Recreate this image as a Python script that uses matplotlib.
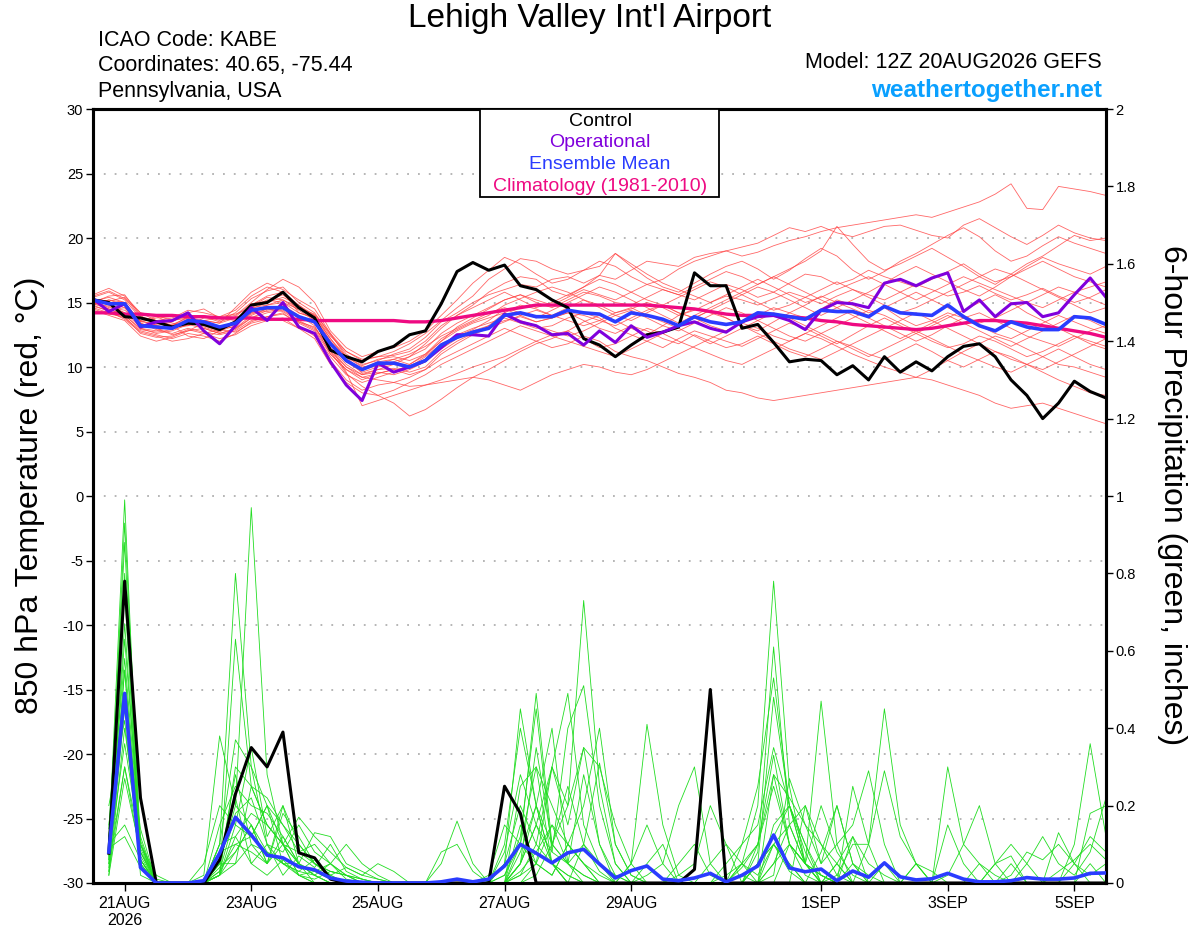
import numpy as np
import matplotlib
matplotlib.use("Agg")
import matplotlib.pyplot as plt
from matplotlib.patches import Rectangle

plt.rcParams["font.family"] = ["Liberation Sans", "DejaVu Sans"]
plt.rcParams["axes.unicode_minus"] = False

# forecast hours from 12Z 20AUG2026
hours_t = np.arange(0, 385, 6)
hours_p = np.arange(6, 385, 6)

tick_hours = [12, 60, 108, 156, 204, 276, 324, 372]
tick_labels = ["21AUG\n2026", "23AUG", "25AUG", "27AUG", "29AUG", "1SEP", "3SEP", "5SEP"]

# 850 hPa temperature (C)
control_t = [
    15.2, 15.0, 13.9, 13.8, 13.5, 13.1, 13.4, 13.3, 12.9, 13.5, 14.8, 15.0, 15.8,
    14.6, 13.8, 11.3, 10.8, 10.4, 11.2, 11.6, 12.5, 12.8, 14.9, 17.4, 18.1, 17.5,
    17.9, 16.3, 16.0, 15.2, 14.6, 12.2, 11.7, 10.8, 11.7, 12.5, 12.7, 13.1, 17.3,
    16.3, 16.3, 13.0, 13.3, 11.9, 10.4, 10.6, 10.5, 9.4, 10.1, 9.0, 10.8, 9.6,
    10.4, 9.7, 10.8, 11.6, 11.8, 10.8, 9.0, 7.8, 6.0, 7.2, 8.9, 8.1, 7.6,
]
oper_t = [
    15.3, 14.3, 14.9, 13.1, 13.5, 13.6, 14.2, 12.8, 11.8, 13.2, 14.6, 13.6, 15.0,
    13.1, 12.6, 10.4, 8.6, 7.4, 10.3, 9.6, 10.0, 10.5, 11.5, 12.5, 12.5, 12.4,
    14.1, 13.5, 13.2, 12.5, 12.6, 11.7, 12.8, 11.9, 13.2, 12.3, 12.7, 13.2, 13.5,
    13.0, 12.7, 13.5, 13.9, 14.0, 13.6, 12.9, 14.4, 15.0, 14.9, 14.6, 16.5, 16.8,
    16.3, 16.9, 17.3, 14.3, 15.2, 13.9, 14.9, 15.0, 13.9, 14.2, 15.6, 16.9, 15.4,
]
mean_t = [
    15.2, 14.9, 14.9, 13.2, 13.1, 13.0, 13.6, 13.5, 13.1, 13.4, 14.4, 14.6, 14.6,
    13.9, 13.5, 11.8, 10.5, 9.8, 10.3, 10.3, 10.0, 10.5, 11.7, 12.3, 12.7, 13.0,
    14.0, 14.2, 13.9, 13.9, 14.4, 14.2, 14.1, 13.5, 14.2, 14.0, 13.7, 13.2, 13.9,
    13.5, 13.3, 13.5, 14.2, 14.1, 13.9, 13.7, 14.4, 14.3, 14.3, 13.9, 14.7, 14.2,
    14.1, 14.0, 14.8, 13.9, 13.2, 12.8, 13.5, 13.1, 12.9, 12.9, 13.9, 13.8, 13.3,
]
clim_t = [
    14.2, 14.2, 14.1, 14.1, 14.0, 14.0, 13.9, 13.9, 13.8, 13.8, 13.8, 13.7, 13.7,
    13.7, 13.6, 13.6, 13.6, 13.6, 13.6, 13.6, 13.5, 13.5, 13.6, 13.8, 14.0, 14.2,
    14.4, 14.6, 14.8, 14.8, 14.8, 14.8, 14.8, 14.8, 14.8, 14.8, 14.7, 14.6, 14.5,
    14.3, 14.1, 14.0, 14.0, 14.0, 13.9, 13.8, 13.6, 13.5, 13.3, 13.2, 13.1, 13.0,
    12.9, 13.0, 13.2, 13.4, 13.6, 13.6, 13.5, 13.4, 13.2, 13.0, 12.8, 12.6, 12.3,
]

t01 = [15.4, 15.8, 15.2, 13.8, 13.5, 13.2, 13.9, 14.0, 13.6, 14.2, 15.3, 15.9, 16.2,
       15.0, 14.2, 12.5, 11.0, 10.2, 10.5, 11.0, 11.4, 12.3, 13.5, 14.2, 15.0, 15.6,
       16.0, 16.4, 16.2, 16.8, 17.0, 16.5, 17.1, 16.8, 17.5, 18.2, 18.0, 17.8, 18.5,
       18.8, 19.0, 18.6, 18.9, 19.4, 19.8, 20.1, 20.5, 20.8, 21.0, 21.2, 21.4, 21.6,
       21.8, 21.6, 22.0, 22.4, 22.8, 23.4, 24.2, 22.3, 22.2, 24.0, 23.8, 23.6, 23.3]
t02 = [15.0, 15.5, 15.6, 14.0, 13.2, 13.5, 14.2, 14.5, 13.8, 14.0, 15.0, 16.0, 16.8,
       16.2, 15.0, 12.8, 11.5, 10.8, 11.2, 11.5, 12.0, 12.8, 14.0, 15.2, 16.5, 17.5,
       18.5, 18.0, 17.2, 16.5, 16.8, 17.5, 18.2, 17.8, 17.0, 16.4, 16.8, 17.6, 18.2,
       18.6, 19.0, 19.3, 19.6, 20.2, 20.8, 20.5, 20.9, 20.4, 20.1, 20.5, 20.9, 21.0,
       20.6, 20.2, 20.0, 21.0, 21.5, 20.8, 20.1, 19.5, 20.2, 21.0, 20.4, 20.0, 19.8]
t03 = [14.8, 15.2, 15.0, 13.5, 13.8, 13.9, 14.0, 13.2, 12.8, 13.5, 14.8, 15.5, 15.8,
       14.2, 13.8, 12.0, 10.8, 9.5, 9.8, 10.2, 10.8, 11.8, 13.0, 14.0, 14.8, 15.8,
       16.5, 17.0, 16.8, 15.9, 15.5, 16.2, 17.1, 18.8, 17.8, 16.9, 16.2, 15.8, 16.5,
       17.2, 17.8, 18.2, 17.6, 16.8, 17.5, 18.4, 19.2, 18.6, 17.5, 16.8, 17.4, 18.2,
       18.8, 19.5, 20.2, 20.8, 20.1, 19.0, 18.2, 18.6, 19.4, 20.1, 19.6, 19.2, 18.8]
t04 = [15.1, 14.6, 14.4, 13.6, 13.9, 13.4, 13.2, 13.8, 13.9, 14.1, 14.6, 15.2, 15.0,
       14.5, 14.0, 12.2, 10.6, 9.9, 10.4, 10.6, 10.2, 10.9, 12.0, 13.1, 13.8, 14.5,
       15.2, 15.6, 15.0, 14.6, 15.2, 15.8, 15.5, 15.0, 14.8, 15.4, 16.0, 15.6, 15.2,
       15.8, 16.4, 16.0, 15.4, 15.8, 16.5, 17.2, 17.0, 16.4, 16.8, 17.5, 17.0, 16.6,
       16.2, 16.8, 17.4, 18.0, 17.2, 16.6, 17.0, 17.8, 18.5, 18.0, 17.6, 17.2, 17.8]
t05 = [14.9, 15.2, 14.8, 13.0, 12.6, 12.8, 13.3, 13.0, 12.6, 12.9, 13.8, 14.2, 14.4,
       13.6, 13.0, 11.5, 10.2, 9.4, 9.8, 9.9, 9.6, 10.0, 11.2, 12.0, 12.6, 13.2,
       14.2, 14.8, 14.5, 14.0, 14.6, 15.2, 14.8, 14.2, 14.5, 15.0, 14.6, 14.0, 14.4,
       15.0, 15.5, 15.2, 14.8, 15.3, 15.8, 15.4, 14.9, 15.5, 16.0, 15.6, 15.2, 15.8,
       16.4, 16.0, 15.5, 15.8, 16.3, 15.7, 15.2, 15.6, 16.1, 15.5, 15.0, 15.4, 16.0]
t06 = [15.3, 14.8, 14.2, 13.4, 13.0, 12.5, 12.8, 13.4, 13.2, 13.0, 14.0, 14.5, 14.8,
       14.0, 13.2, 11.0, 9.8, 9.0, 9.5, 9.8, 10.0, 10.8, 11.8, 12.4, 12.9, 13.6,
       14.5, 14.0, 13.5, 13.8, 14.2, 13.6, 13.0, 12.6, 13.2, 12.8, 12.2, 11.8, 12.5,
       12.0, 11.5, 11.8, 12.4, 11.8, 11.2, 10.8, 11.4, 12.0, 11.6, 11.0, 10.6, 11.2,
       11.8, 11.2, 10.5, 10.0, 10.6, 11.2, 10.8, 10.2, 9.6, 9.0, 8.5, 8.0, 7.8]
t07 = [14.6, 14.2, 13.8, 12.8, 12.5, 12.2, 12.6, 12.4, 12.0, 12.6, 13.5, 13.9, 14.2,
       13.2, 12.4, 10.5, 9.0, 8.2, 8.6, 8.8, 9.2, 9.8, 10.6, 11.2, 11.8, 12.4,
       13.0, 12.5, 12.0, 11.5, 11.8, 12.4, 12.0, 11.2, 10.8, 10.5, 10.0, 9.5, 9.2,
       8.8, 8.2, 8.0, 7.6, 7.4, 7.6, 7.8, 8.0, 8.2, 8.4, 8.6, 8.8, 9.0,
       9.2, 9.0, 8.6, 8.2, 7.8, 7.2, 6.8, 7.0, 7.2, 6.8, 6.4, 6.0, 5.6]
t08 = [15.0, 14.5, 14.0, 13.0, 12.8, 13.2, 12.4, 12.2, 12.8, 13.2, 14.2, 14.8, 15.2,
       14.4, 13.6, 11.2, 9.5, 8.5, 7.8, 7.2, 6.2, 6.7, 7.5, 8.4, 9.2, 9.8,
       10.5, 11.2, 11.8, 12.2, 12.8, 13.5, 14.0, 13.6, 13.0, 12.5, 13.2, 14.0, 14.5,
       14.2, 13.8, 13.2, 12.8, 13.5, 14.2, 14.8, 15.5, 15.0, 14.5, 14.0, 14.6, 15.2,
       15.8, 15.2, 14.6, 14.0, 13.4, 13.8, 14.4, 15.0, 15.6, 16.2, 15.8, 15.3, 14.8]
t09 = [15.2, 15.0, 14.6, 13.2, 13.5, 13.0, 13.2, 13.6, 13.4, 13.8, 14.5, 15.0, 15.4,
       14.8, 13.8, 11.5, 9.6, 7.0, 7.4, 7.8, 8.2, 8.6, 9.0, 9.5, 10.0, 10.4,
       10.8, 11.4, 12.0, 12.5, 12.8, 12.2, 11.5, 11.8, 12.4, 13.0, 12.6, 12.0, 11.5,
       11.0, 10.5, 10.2, 10.8, 11.4, 12.0, 12.6, 12.2, 11.6, 11.0, 10.5, 10.0, 9.6,
       9.2, 9.8, 10.5, 11.2, 11.8, 12.4, 12.0, 11.4, 10.8, 10.2, 10.0, 9.6, 9.2]
t10 = [14.4, 14.0, 13.6, 12.4, 12.0, 12.3, 12.8, 13.0, 12.6, 13.0, 13.8, 14.4, 14.6,
       13.4, 12.8, 11.0, 9.8, 9.2, 9.0, 8.8, 8.5, 8.6, 8.8, 9.0, 9.2, 9.0,
       8.6, 8.2, 8.8, 9.4, 9.8, 10.2, 10.0, 9.6, 9.4, 9.8, 10.4, 11.0, 11.6,
       12.2, 12.8, 13.4, 13.0, 12.4, 12.0, 12.6, 13.2, 13.8, 14.4, 13.8, 13.2, 12.6,
       12.0, 12.5, 13.2, 13.8, 14.2, 13.6, 13.0, 12.4, 12.0, 11.6, 12.2, 12.8, 13.2]
t11 = [15.5, 15.9, 15.3, 14.2, 14.0, 13.6, 13.8, 13.6, 13.4, 14.6, 15.8, 16.5, 16.0,
       15.2, 14.5, 12.6, 11.2, 10.6, 10.8, 11.2, 11.8, 12.6, 13.6, 14.6, 15.5, 16.8,
       17.6, 18.4, 18.2, 17.6, 17.2, 17.5, 17.8, 18.8, 18.0, 17.2, 16.5, 16.0, 15.5,
       15.0, 15.6, 16.2, 16.8, 16.2, 15.6, 15.0, 15.4, 16.0, 16.5, 17.0, 16.4, 15.8,
       15.2, 15.8, 16.4, 17.0, 16.5, 16.0, 15.5, 15.0, 14.6, 15.2, 15.8, 16.2, 16.6]
t12 = [15.0, 14.7, 14.2, 13.1, 13.3, 13.6, 13.9, 13.4, 13.0, 13.3, 14.2, 14.3, 14.5,
       13.8, 13.4, 11.8, 10.4, 9.8, 10.1, 10.2, 9.9, 10.4, 11.4, 12.2, 12.8, 13.2,
       13.6, 13.9, 13.5, 13.8, 14.2, 14.0, 13.6, 13.2, 13.8, 14.4, 14.8, 14.2, 13.8,
       13.2, 12.8, 13.4, 14.0, 14.6, 14.2, 13.8, 14.5, 15.2, 14.8, 14.2, 14.6, 13.8,
       13.2, 13.6, 14.2, 13.8, 13.2, 12.6, 12.2, 12.8, 13.4, 14.0, 13.5, 13.0, 12.6]
t13 = [14.7, 14.4, 14.6, 13.4, 12.9, 12.6, 13.0, 12.7, 12.5, 12.8, 13.6, 13.9, 14.1,
       13.5, 13.1, 11.4, 10.0, 9.4, 9.6, 9.4, 9.8, 10.4, 11.6, 12.5, 13.0, 13.4,
       13.8, 13.4, 13.0, 13.2, 13.8, 14.2, 13.8, 13.0, 12.5, 12.0, 11.5, 12.2, 12.8,
       12.4, 12.0, 11.6, 12.2, 12.8, 13.4, 13.0, 12.4, 11.8, 12.5, 13.2, 13.8, 13.2,
       12.6, 12.0, 11.5, 11.8, 12.4, 12.0, 11.4, 10.8, 11.2, 11.8, 12.4, 12.0, 11.6]
t14 = [15.2, 15.0, 14.8, 13.6, 13.2, 13.0, 13.4, 13.6, 13.8, 13.6, 14.6, 14.8, 15.0,
       14.2, 13.8, 12.0, 10.4, 9.6, 10.0, 10.4, 10.8, 11.4, 12.6, 13.4, 14.0, 14.6,
       15.2, 15.6, 15.2, 14.8, 15.4, 16.0, 15.6, 15.2, 15.8, 16.4, 16.0, 15.6, 16.2,
       16.8, 17.4, 17.0, 16.4, 17.0, 17.6, 18.2, 19.0, 20.9, 19.5, 18.2, 17.5, 18.0,
       18.6, 19.2, 18.5, 17.8, 17.0, 16.4, 17.2, 18.0, 18.6, 19.4, 20.2, 19.8, 20.0]
t15 = [14.9, 14.5, 14.0, 12.9, 12.7, 12.9, 13.5, 13.3, 12.9, 13.3, 14.1, 14.5, 14.3,
       13.5, 12.9, 11.2, 10.0, 9.2, 9.5, 9.8, 9.4, 9.8, 11.0, 11.8, 12.5, 13.0,
       13.5, 14.0, 14.4, 14.0, 13.6, 13.2, 13.6, 14.2, 14.6, 14.0, 13.5, 13.0, 12.4,
       11.8, 12.4, 13.0, 13.6, 14.2, 13.8, 13.2, 12.6, 12.0, 11.4, 10.8, 11.4, 12.0,
       12.6, 13.2, 13.8, 14.4, 15.0, 15.6, 15.0, 14.2, 13.6, 13.0, 12.4, 11.8, 11.4]
t16 = [15.6, 16.1, 15.5, 14.2, 13.6, 13.8, 14.4, 14.2, 13.9, 14.4, 15.5, 16.2, 15.8,
       14.8, 14.0, 12.4, 11.2, 10.5, 10.8, 10.9, 11.2, 12.0, 13.2, 14.0, 14.6, 15.2,
       15.8, 15.2, 14.6, 15.0, 15.6, 16.2, 16.8, 16.4, 15.8, 15.2, 14.8, 14.2, 13.8,
       14.4, 15.0, 15.6, 16.2, 15.8, 15.2, 14.6, 14.0, 14.6, 15.2, 15.8, 16.5, 17.2,
       17.8, 17.2, 16.6, 16.0, 15.5, 16.2, 17.0, 17.6, 18.2, 17.6, 17.0, 16.6, 16.2]
t17 = [14.5, 14.1, 13.9, 12.6, 12.3, 12.4, 12.9, 12.6, 12.2, 12.5, 13.2, 13.6, 13.8,
       13.0, 12.6, 10.8, 9.4, 8.8, 9.2, 9.6, 10.2, 11.0, 12.0, 12.8, 13.4, 13.8,
       14.2, 13.6, 13.2, 12.8, 12.4, 12.8, 13.4, 14.0, 14.4, 13.8, 13.2, 12.8, 13.4,
       14.0, 14.6, 14.2, 13.6, 13.0, 12.4, 12.0, 12.6, 13.2, 13.8, 14.4, 14.0, 13.4,
       12.8, 12.2, 11.6, 11.0, 10.5, 10.0, 9.6, 10.2, 10.8, 11.4, 10.8, 10.2, 9.8]
t18 = [15.3, 15.1, 15.4, 13.9, 13.6, 13.2, 13.7, 13.9, 13.5, 13.9, 14.9, 15.1, 15.6,
       14.6, 14.1, 12.6, 10.8, 10.1, 10.6, 10.8, 10.5, 11.0, 12.2, 12.9, 13.5, 14.0,
       14.8, 15.3, 15.8, 16.2, 15.8, 15.2, 14.6, 14.0, 13.6, 14.2, 14.8, 15.4, 16.0,
       16.6, 16.2, 15.6, 15.0, 14.4, 14.8, 15.4, 16.0, 16.6, 16.0, 15.4, 14.8, 14.2,
       14.6, 15.2, 15.8, 16.4, 17.0, 17.6, 17.2, 16.6, 16.0, 15.4, 14.8, 14.2, 14.6]
t19 = [14.8, 14.3, 13.7, 12.7, 12.4, 12.0, 12.2, 12.6, 12.9, 12.7, 13.4, 13.7, 13.6,
       13.0, 12.2, 10.2, 8.8, 8.0, 7.8, 8.2, 8.8, 9.4, 10.2, 10.8, 11.4, 12.0,
       12.6, 13.2, 12.8, 12.4, 12.0, 11.6, 11.2, 10.8, 11.4, 12.0, 12.6, 13.2, 13.8,
       14.4, 13.8, 13.2, 12.6, 12.0, 11.4, 11.0, 10.6, 11.2, 11.8, 12.4, 13.0, 13.6,
       14.2, 13.6, 13.0, 12.4, 11.8, 11.2, 10.6, 10.2, 9.8, 10.4, 11.0, 11.6, 12.2]
t20 = [15.1, 15.4, 15.0, 13.5, 13.4, 13.3, 13.8, 13.1, 12.7, 13.6, 14.7, 15.4, 15.2,
       14.6, 13.9, 12.2, 10.8, 10.0, 10.2, 10.6, 11.0, 11.6, 12.4, 13.0, 13.6, 14.2,
       14.6, 14.2, 13.8, 14.4, 15.0, 15.6, 16.2, 15.8, 15.2, 14.6, 14.0, 13.4, 14.0,
       14.6, 15.2, 15.8, 16.4, 17.0, 16.4, 15.8, 15.2, 14.6, 14.0, 13.4, 12.8, 12.2,
       12.8, 13.4, 14.0, 13.4, 12.8, 12.2, 11.6, 12.2, 12.8, 13.4, 14.0, 13.6, 13.0]

temp_members = [t01, t02, t03, t04, t05, t06, t07, t08, t09, t10,
                t11, t12, t13, t14, t15, t16, t17, t18, t19, t20]

# 6-hour precipitation (inches)
control_p = [
    0.077, 0.78, 0.22, 0, 0, 0, 0, 0.06, 0.23, 0.35, 0.30, 0.39, 0.078, 0.065, 0.01, 0,
    0, 0, 0, 0, 0, 0, 0, 0, 0, 0.25, 0.18, 0, 0, 0, 0, 0,
    0, 0, 0, 0, 0, 0.035, 0.50, 0, 0, 0, 0, 0, 0, 0, 0, 0,
    0, 0, 0, 0, 0, 0, 0, 0, 0, 0, 0, 0, 0, 0, 0, 0,
]
mean_p = [
    0.08, 0.49, 0.04, 0, 0, 0, 0.006, 0.077, 0.17, 0.124, 0.072, 0.065, 0.042, 0.034, 0.013, 0.005,
    0.002, 0, 0, 0, 0, 0.003, 0.01, 0.003, 0.01, 0.044, 0.10, 0.077, 0.052, 0.078, 0.087, 0.049,
    0.013, 0.032, 0.044, 0.01, 0.006, 0.013, 0.025, 0.003, 0.02, 0.044, 0.124, 0.039, 0.029, 0.036, 0.006, 0.031,
    0.015, 0.052, 0.016, 0.008, 0.011, 0.025, 0.01, 0.003, 0.003, 0.006, 0.014, 0.01, 0.01, 0.013, 0.025, 0.026,
]

p01 = [0.10, 0.99, 0.06, 0, 0, 0, 0, 0.05, 0.20, 0.97, 0.28, 0.10, 0.02, 0, 0, 0,
       0, 0, 0, 0, 0, 0, 0, 0, 0, 0.05, 0.45, 0.20, 0.05, 0, 0, 0,
       0, 0, 0, 0, 0, 0, 0, 0, 0, 0.05, 0.10, 0.03, 0, 0, 0, 0,
       0, 0, 0, 0, 0, 0, 0, 0, 0, 0, 0, 0, 0, 0.05, 0.12, 0.08]
p02 = [0.06, 0.93, 0.10, 0, 0, 0, 0, 0.10, 0.80, 0.30, 0.10, 0.05, 0.03, 0.02, 0, 0,
       0, 0, 0, 0, 0, 0, 0, 0, 0.02, 0.15, 0.10, 0.49, 0.10, 0.05, 0.02, 0,
       0, 0, 0, 0, 0, 0, 0, 0, 0.05, 0.20, 0.78, 0.25, 0.05, 0.02, 0, 0,
       0, 0, 0, 0, 0, 0, 0, 0, 0, 0, 0, 0, 0, 0, 0, 0]
p03 = [0.08, 0.88, 0.05, 0, 0, 0, 0, 0.02, 0.63, 0.25, 0.15, 0.10, 0.05, 0, 0, 0,
       0, 0, 0, 0, 0, 0, 0, 0, 0, 0, 0.02, 0.10, 0.30, 0.49, 0.15, 0.05,
       0, 0, 0, 0, 0, 0, 0, 0, 0, 0.08, 0.61, 0.15, 0.05, 0, 0, 0,
       0, 0, 0, 0, 0, 0, 0, 0, 0, 0, 0, 0, 0, 0, 0, 0]
p04 = [0.05, 0.67, 0.08, 0.01, 0, 0, 0.02, 0.38, 0.20, 0.15, 0.08, 0.05, 0.02, 0, 0, 0,
       0, 0, 0, 0, 0, 0, 0, 0, 0, 0, 0.05, 0.15, 0.30, 0.20, 0.73, 0.25,
       0.05, 0, 0, 0, 0, 0, 0, 0, 0, 0.05, 0.48, 0.20, 0.10, 0.02, 0, 0,
       0, 0, 0, 0, 0, 0, 0, 0, 0, 0, 0, 0, 0, 0, 0, 0]
p05 = [0.12, 0.58, 0.10, 0, 0, 0, 0, 0.10, 0.37, 0.30, 0.20, 0.10, 0.05, 0.02, 0, 0,
       0, 0, 0, 0, 0, 0, 0, 0, 0, 0.10, 0.40, 0.20, 0.05, 0, 0.10, 0.31,
       0.10, 0.02, 0, 0, 0, 0, 0, 0, 0, 0.10, 0.33, 0.10, 0.05, 0.47, 0.10, 0,
       0, 0, 0, 0, 0, 0, 0, 0, 0, 0, 0, 0, 0, 0, 0, 0]
p06 = [0.04, 0.55, 0.08, 0, 0, 0, 0, 0.02, 0.30, 0.25, 0.22, 0.15, 0.10, 0.05, 0.03, 0.02,
       0.01, 0, 0, 0, 0, 0, 0, 0, 0, 0, 0.05, 0.15, 0.08, 0.40, 0.51, 0.20,
       0.05, 0, 0, 0, 0, 0, 0, 0.02, 0.05, 0.10, 0.28, 0.10, 0.05, 0, 0.02, 0.10,
       0.10, 0.29, 0.12, 0.05, 0, 0, 0, 0, 0, 0, 0, 0, 0, 0, 0, 0]
p07 = [0.15, 0.48, 0.12, 0, 0, 0, 0, 0.15, 0.25, 0.20, 0.18, 0.12, 0.05, 0.03, 0.01, 0,
       0, 0, 0, 0, 0, 0, 0, 0, 0, 0, 0.25, 0.30, 0.20, 0.10, 0.05, 0,
       0, 0.05, 0.41, 0.15, 0.02, 0, 0, 0, 0, 0, 0.10, 0.05, 0, 0.08, 0.20, 0.05,
       0, 0, 0, 0, 0, 0, 0, 0, 0.05, 0.10, 0.05, 0, 0, 0, 0, 0]
p08 = [0.20, 0.42, 0.05, 0, 0, 0, 0.05, 0.20, 0.15, 0.35, 0.12, 0.20, 0.10, 0.05, 0.02, 0,
       0, 0, 0, 0, 0, 0, 0, 0, 0, 0.02, 0.10, 0.05, 0.30, 0.15, 0.35, 0.10,
       0, 0, 0.02, 0.05, 0.20, 0.30, 0.05, 0, 0, 0, 0, 0, 0.20, 0.10, 0.05, 0,
       0.10, 0.45, 0.15, 0.05, 0, 0, 0, 0, 0, 0, 0, 0, 0.13, 0.05, 0, 0]
p09 = [0.07, 0.36, 0.10, 0.02, 0, 0, 0, 0.08, 0.10, 0.12, 0.20, 0.15, 0.08, 0.10, 0.05, 0.01,
       0, 0, 0, 0, 0, 0, 0, 0, 0, 0, 0, 0.02, 0.10, 0.20, 0.35, 0.30,
       0.15, 0.05, 0, 0, 0.02, 0.05, 0.20, 0.10, 0, 0, 0.15, 0.20, 0.05, 0, 0, 0.25,
       0.10, 0, 0, 0.05, 0, 0.30, 0.10, 0.05, 0, 0, 0, 0, 0, 0, 0.05, 0]
p10 = [0.03, 0.30, 0.07, 0, 0, 0, 0, 0.05, 0.28, 0.10, 0.05, 0.18, 0.12, 0.05, 0.03, 0.02,
       0.01, 0, 0, 0, 0, 0.05, 0.16, 0.05, 0, 0, 0.05, 0.35, 0.10, 0.05, 0.02, 0,
       0, 0, 0, 0, 0, 0, 0, 0.05, 0.10, 0.15, 0.35, 0.20, 0.10, 0, 0, 0,
       0, 0, 0, 0, 0, 0, 0, 0, 0, 0, 0, 0, 0, 0, 0, 0]
p11 = [0.09, 0.12, 0.04, 0, 0, 0, 0, 0.03, 0.18, 0.22, 0.10, 0.08, 0.15, 0.08, 0.05, 0.02,
       0, 0, 0, 0, 0, 0, 0, 0, 0, 0.05, 0.20, 0.10, 0.05, 0, 0, 0,
       0, 0, 0, 0, 0, 0, 0, 0, 0, 0, 0.05, 0.15, 0.20, 0.05, 0.10, 0.15,
       0.29, 0.10, 0, 0, 0, 0, 0, 0, 0, 0, 0.05, 0.12, 0.05, 0.02, 0.08, 0.22]
p12 = [0.05, 0.30, 0.10, 0, 0, 0, 0, 0.02, 0.12, 0.18, 0.15, 0.10, 0.17, 0.12, 0.08, 0.04,
       0.02, 0.01, 0, 0, 0, 0, 0, 0, 0, 0.08, 0.28, 0.15, 0.05, 0.02, 0, 0,
       0, 0.05, 0.15, 0.05, 0, 0, 0.05, 0.10, 0.05, 0, 0, 0.10, 0.05, 0, 0.05, 0,
       0, 0, 0, 0.05, 0.03, 0, 0, 0, 0, 0, 0, 0, 0, 0, 0, 0]
p13 = [0.10, 0.15, 0.06, 0, 0, 0, 0, 0.04, 0.08, 0.15, 0.05, 0.20, 0.05, 0.13, 0.12, 0.05,
       0.03, 0.01, 0, 0, 0, 0, 0, 0, 0, 0, 0.02, 0.05, 0.15, 0.10, 0.20, 0.40,
       0.10, 0.02, 0, 0, 0, 0, 0, 0, 0, 0, 0.28, 0.22, 0.15, 0.10, 0.02, 0,
       0, 0, 0, 0, 0, 0, 0, 0, 0, 0, 0, 0, 0, 0, 0, 0]
p14 = [0.02, 0.27, 0.08, 0, 0, 0, 0, 0.06, 0.22, 0.05, 0.10, 0.02, 0.07, 0.04, 0.10, 0.03,
       0.01, 0, 0, 0, 0, 0, 0, 0, 0, 0, 0, 0.05, 0.02, 0.10, 0.05, 0.02,
       0, 0, 0, 0, 0, 0, 0, 0, 0.05, 0.02, 0.10, 0.15, 0.05, 0.20, 0.08, 0.02,
       0, 0, 0, 0, 0, 0, 0, 0, 0, 0.05, 0, 0, 0, 0, 0, 0]
p15 = [0.14, 0.80, 0.06, 0, 0, 0, 0, 0.03, 0.10, 0.08, 0.05, 0.12, 0.05, 0.02, 0.05, 0.10,
       0.05, 0.02, 0, 0, 0, 0, 0, 0, 0, 0.02, 0.12, 0.45, 0.08, 0.05, 0, 0,
       0, 0, 0, 0, 0, 0, 0, 0, 0, 0.05, 0.10, 0.05, 0, 0, 0, 0.12,
       0, 0.05, 0, 0, 0, 0, 0, 0.05, 0.02, 0, 0, 0, 0, 0, 0, 0]
p16 = [0.03, 0.45, 0.14, 0, 0, 0, 0, 0.02, 0.05, 0.10, 0.08, 0.05, 0.03, 0.06, 0.02, 0.04,
       0.02, 0.05, 0.03, 0, 0, 0, 0, 0, 0, 0, 0.08, 0.20, 0.40, 0.05, 0.10, 0.03,
       0, 0, 0, 0, 0.05, 0.10, 0.02, 0, 0, 0.05, 0.12, 0.20, 0.08, 0, 0, 0.05,
       0, 0, 0, 0, 0, 0.02, 0.10, 0.20, 0.05, 0, 0, 0, 0, 0, 0, 0]
p17 = [0.08, 0.55, 0.02, 0, 0, 0, 0, 0.10, 0.12, 0.05, 0.02, 0.06, 0.02, 0.01, 0.03, 0.02,
       0, 0, 0, 0, 0, 0, 0, 0, 0, 0, 0.15, 0.05, 0.02, 0.10, 0.05, 0,
       0, 0, 0.05, 0.10, 0, 0, 0, 0, 0.04, 0.10, 0.25, 0.10, 0.02, 0, 0.05, 0.12,
       0.05, 0.02, 0, 0, 0, 0, 0, 0, 0.05, 0.07, 0, 0, 0, 0.10, 0.36, 0.12]
p18 = [0.02, 0.40, 0.09, 0, 0, 0, 0, 0.02, 0.15, 0.12, 0.20, 0.05, 0.05, 0.02, 0, 0,
       0, 0, 0, 0, 0, 0, 0, 0, 0, 0, 0.05, 0.20, 0.10, 0.25, 0.10, 0.05,
       0.02, 0, 0, 0, 0, 0, 0, 0, 0.02, 0, 0.05, 0.10, 0.05, 0.02, 0, 0,
       0, 0, 0, 0, 0, 0, 0, 0, 0, 0.02, 0.08, 0.06, 0.10, 0.05, 0.02, 0.05]
p19 = [0.06, 0.63, 0.11, 0, 0, 0, 0, 0.05, 0.05, 0.25, 0.15, 0.10, 0.02, 0.03, 0.05, 0.02,
       0, 0, 0, 0, 0, 0.08, 0.10, 0.03, 0, 0, 0.10, 0.30, 0.05, 0.02, 0, 0,
       0, 0, 0, 0, 0, 0, 0, 0, 0.10, 0.25, 0.53, 0.20, 0.05, 0.02, 0, 0,
       0, 0, 0, 0, 0, 0, 0, 0, 0, 0, 0, 0, 0.03, 0.06, 0.10, 0.06]
p20 = [0.11, 0.75, 0.06, 0, 0, 0, 0, 0.02, 0.08, 0.15, 0.05, 0.10, 0.08, 0.05, 0.02, 0,
       0, 0, 0, 0, 0, 0, 0, 0, 0, 0, 0.03, 0.08, 0.15, 0.05, 0.28, 0.10,
       0.02, 0, 0, 0, 0, 0, 0, 0, 0, 0, 0.02, 0.27, 0.15, 0.05, 0.20, 0.05,
       0.02, 0, 0, 0, 0, 0.15, 0.05, 0, 0, 0, 0, 0, 0, 0, 0.18, 0.20]

precip_members = [p01, p02, p03, p04, p05, p06, p07, p08, p09, p10,
                  p11, p12, p13, p14, p15, p16, p17, p18, p19, p20]

c_oper = "#8000dc"
c_mean = "#2a3cff"
c_clim = "#ee0a82"
c_red = "#ff4040"
c_green = "#22dd22"

fig = plt.figure(figsize=(12, 9.27), dpi=100)
ax = fig.add_axes([93 / 1200, 1 - 883 / 927, 1013 / 1200, 774 / 927])
ax2 = ax.twinx()

# temperature
for member in temp_members:
    ax.plot(hours_t, member, color=c_red, lw=0.6, alpha=0.8, zorder=2)
ax.plot(hours_t, clim_t, color=c_clim, lw=2.4, zorder=3)
ax.plot(hours_t, control_t, color="black", lw=2.2, zorder=4)
ax.plot(hours_t, oper_t, color=c_oper, lw=2.2, zorder=4)
ax.plot(hours_t, mean_t, color=c_mean, lw=2.6, zorder=5)

# precipitation
for member in precip_members:
    ax2.plot(hours_p, member, color=c_green, lw=0.6, zorder=2)
ax2.plot(hours_p, control_p, color="black", lw=2.2, zorder=4)
ax2.plot(hours_p, mean_p, color=c_mean, lw=2.6, zorder=5)

ax.set_xlim(0, 384)
ax.set_ylim(-30, 30)
ax2.set_ylim(0, 2)

ax.set_yticks(np.arange(-30, 31, 5))
ax.set_yticklabels([str(v) for v in range(-30, 31, 5)])
ax2.set_yticks(np.arange(0, 2.01, 0.2))
ax2.set_yticklabels(["%g" % round(v, 1) for v in np.arange(0, 2.01, 0.2)])
ax.set_xticks(tick_hours)
ax.set_xticklabels(tick_labels)

for v in range(-25, 30, 5):
    ax.axhline(v, color="#b0b0b0", lw=1.3, ls=(0, (1, 5)), zorder=1)

ax.tick_params(axis="y", direction="out", length=5, width=1, labelsize=10.5, pad=2)
ax.tick_params(axis="x", direction="out", length=6, width=1, labelsize=11.5, pad=3)
ax2.tick_params(axis="y", direction="out", length=5, width=1, labelsize=10.5, pad=2)

for a in (ax, ax2):
    for s in a.spines.values():
        s.set_linewidth(2.2)

# titles and info
fig.text(590 / 1200, 1 - 18 / 927, "Lehigh Valley Int'l Airport", ha="center", va="center", fontsize=24)
fig.text(98 / 1200, 1 - 40 / 927, "ICAO Code: KABE", ha="left", va="center", fontsize=15.5)
fig.text(98 / 1200, 1 - 66 / 927, "Coordinates: 40.65, -75.44", ha="left", va="center", fontsize=15.5)
fig.text(98 / 1200, 1 - 92 / 927, "Pennsylvania, USA", ha="left", va="center", fontsize=15.5)
fig.text(1102 / 1200, 1 - 63 / 927, "Model: 12Z 20AUG2026 GEFS", ha="right", va="center", fontsize=15.5)
fig.text(1102 / 1200, 1 - 90 / 927, "weathertogether.net", ha="right", va="center",
         fontsize=17.5, fontweight="bold", color="#0aa0ff")

fig.text(30 / 1200, 1 - 495 / 927, "850 hPa Temperature (red, °C)", rotation=90,
         ha="center", va="center", fontsize=23)
fig.text(1172 / 1200, 1 - 495 / 927, "6-hour Precipitation (green, inches)", rotation=270,
         ha="center", va="center", fontsize=23)

# legend box
fig.add_artist(Rectangle((480 / 1200, 1 - 197 / 927), 239 / 1200, 88 / 927,
                         transform=fig.transFigure, facecolor="white", edgecolor="black", lw=1.3))
legend_items = [("Control", "black"), ("Operational", c_oper),
                ("Ensemble Mean", c_mean), ("Climatology (1981-2010)", c_clim)]
for i, (label, col) in enumerate(legend_items):
    fig.text(600 / 1200, 1 - (121 + 21.7 * i) / 927, label, ha="center", va="center",
             fontsize=14, color=col)

plt.savefig("out.png", dpi=100)
